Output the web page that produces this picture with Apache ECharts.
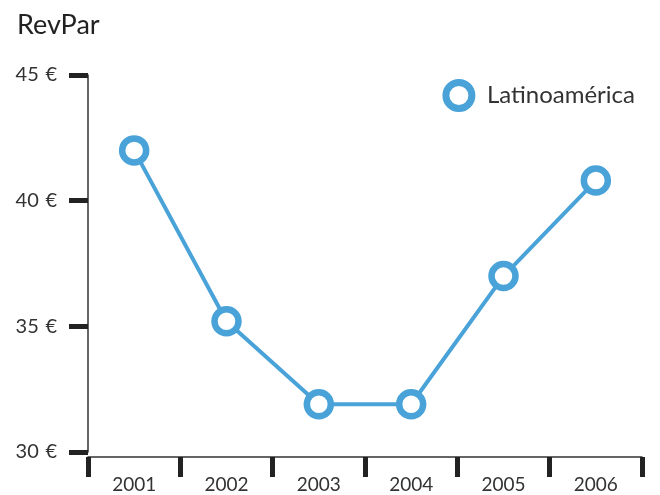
<!DOCTYPE html>
<html>
<head>
<meta charset="utf-8">
<script src="https://cdn.jsdelivr.net/npm/echarts@6/dist/echarts.min.js"></script>
<style>
  html, body { margin: 0; padding: 0; background: #fff; }
  #chart { width: 660px; height: 495px; }
</style>
</head>
<body>
<div id="chart"></div>
<script>
// datos
var years = ["2001", "2002", "2003", "2004", "2005", "2006"];
var revpar = [42.0, 35.2, 31.9, 31.9, 37.0, 40.8];
var seriesName = "Latinoamérica";

var blue = "#4aa3d8";
var dark = "#222";
var font = "Lato";

var chart = echarts.init(document.getElementById("chart"));
chart.setOption({
  animation: false,
  textStyle: { fontFamily: font },
  title: {
    text: "RevPar",
    left: 12,
    top: 7,
    textStyle: { fontFamily: font, fontSize: 27, fontWeight: "normal", color: dark }
  },
  legend: {
    data: [{ name: seriesName, icon: "circle" }],
    right: 20,
    top: 74,
    itemWidth: 26,
    itemHeight: 26,
    itemGap: 8,
    itemStyle: { color: "#fff", borderColor: blue, borderWidth: 7 },
    textStyle: { fontFamily: font, fontSize: 24, color: "#333", padding: [0, 0, 0, 10] }
  },
  grid: { left: 88, right: 18, top: 75, bottom: 43 },
  xAxis: {
    type: "category",
    data: years,
    boundaryGap: true,
    offset: 5,
    axisLine: { lineStyle: { color: "#333", width: 1.5 } },
    axisTick: { show: true, interval: 0, length: 20, lineStyle: { color: dark, width: 5 } },
    axisLabel: { margin: 18, fontSize: 19, color: "#333", fontFamily: font }
  },
  yAxis: {
    type: "value",
    min: 30,
    max: 45,
    interval: 5,
    splitLine: { show: false },
    axisLine: { show: true, lineStyle: { color: "#333", width: 1.5 } },
    axisTick: { show: true, length: 19, lineStyle: { color: dark, width: 5 } },
    axisLabel: {
      margin: 31,
      fontSize: 20,
      color: "#333",
      fontFamily: font,
      formatter: function (v) { return v + "\u2004€"; }
    }
  },
  series: [{
    name: seriesName,
    type: "line",
    data: revpar,
    symbol: "circle",
    symbolSize: 24,
    lineStyle: { color: blue, width: 4 },
    itemStyle: { color: "#fff", borderColor: blue, borderWidth: 6.5 }
  }]
});
</script>
</body>
</html>
